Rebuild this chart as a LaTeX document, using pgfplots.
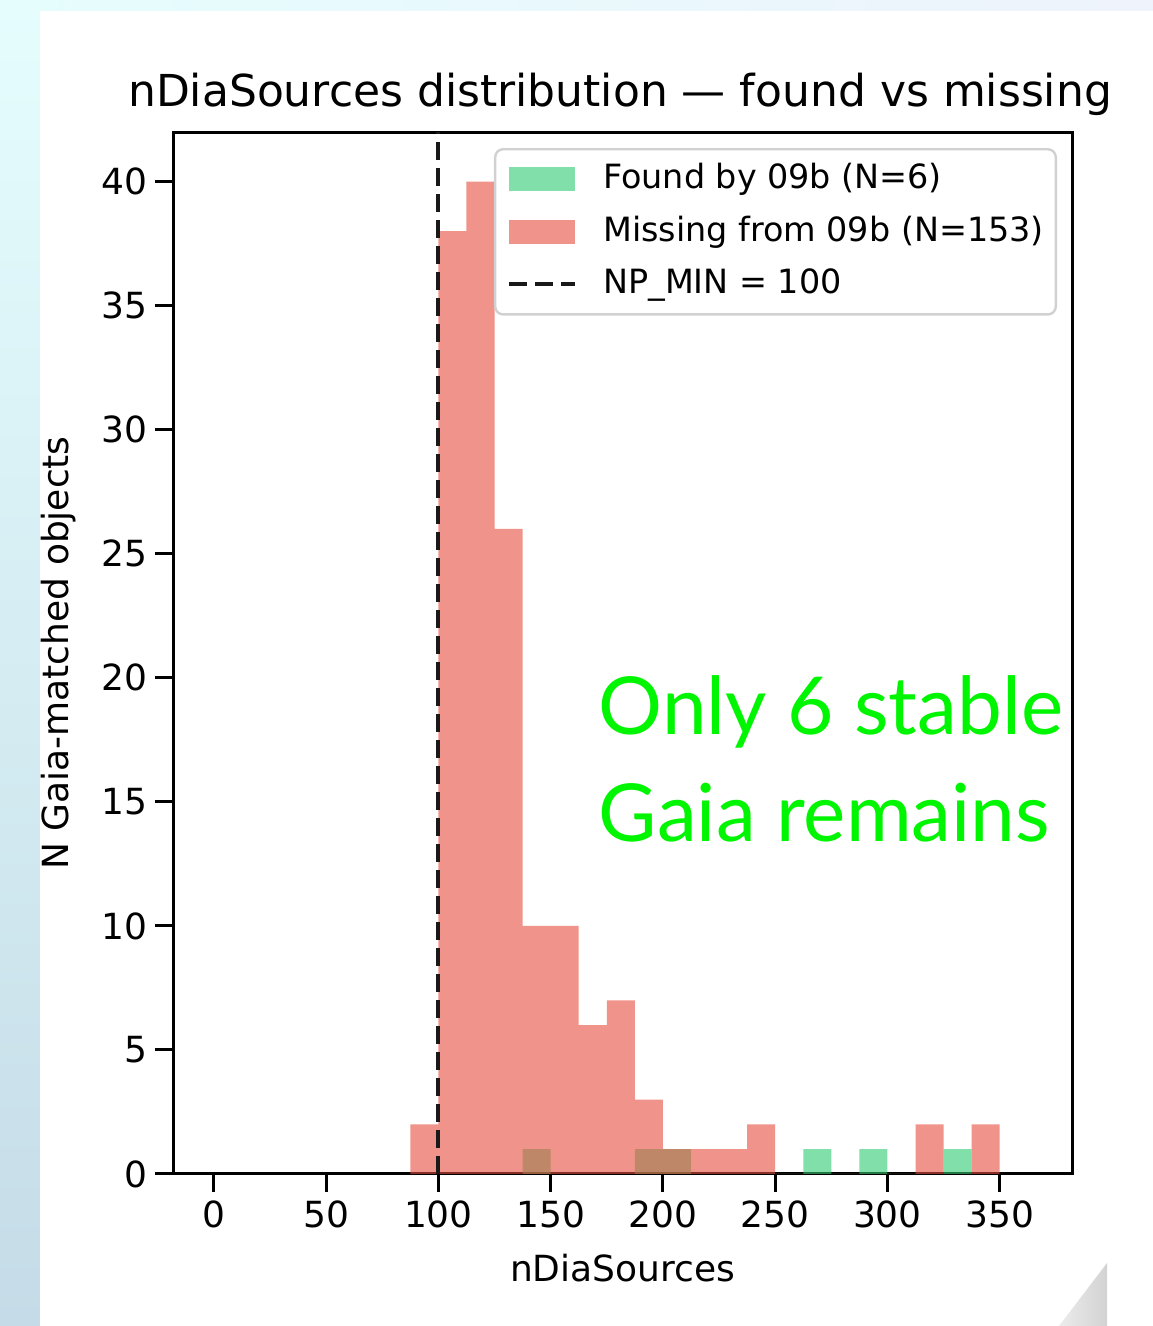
\documentclass[border=0pt]{standalone}
\usepackage{pgfplots}
\pgfplotsset{compat=1.18}
\usepackage{fontspec}
\setmainfont{DejaVu Sans}
\newfontfamily\notefont{Lato}

\definecolor{foundgreen}{HTML}{2ECC71}
\definecolor{missred}{HTML}{E74C3C}
\definecolor{notegreen}{RGB}{0,245,0}
\definecolor{bgtop}{RGB}{229,253,253}
\definecolor{bgbot}{RGB}{197,220,232}
\definecolor{bgright}{RGB}{238,243,252}

\begin{document}
\begin{tikzpicture}
% screenshot backdrop
\shade[top color=bgtop, bottom color=bgbot] (0pt,0pt) rectangle (288.25pt,331.5pt);
\shade[left color=bgtop, right color=bgright] (0pt,328.75pt) rectangle (288.25pt,331.5pt);
\fill[white] (10pt,0pt) rectangle (288.25pt,328.75pt);
\shade[left color=gray!15, right color=gray!35] (264.75pt,0pt) -- (276.75pt,15.75pt) -- (276.75pt,0pt) -- cycle;

\begin{axis}[
  at={(43.25pt,38pt)}, anchor=south west,
  scale only axis,
  width=224.75pt, height=260.5pt,
  xmin=-18.2, xmax=382.2,
  ymin=0, ymax=42,
  xtick={0,50,...,350},
  ytick={0,5,...,40},
  tick align=outside,
  xtick pos=bottom, ytick pos=left,
  major tick length=4.4pt,
  every tick/.style={black, line width=0.75pt},
  axis line style={line width=0.75pt},
  ticklabel style={font=\fontsize{9}{10}\selectfont},
  xticklabel style={yshift=1.2pt},
  yticklabel style={xshift=1.5pt},
  /pgf/number format/assume math mode=true,
  xlabel={nDiaSources},
  xlabel style={font=\fontsize{9}{10}\selectfont, at={(axis description cs:0.5,0)}, anchor=center, yshift=-23.5pt},
  ylabel={N Gaia-matched objects},
  ylabel style={font=\fontsize{9}{10}\selectfont, at={(axis description cs:0,0.5)}, anchor=center, yshift=28.5pt},
  legend cell align=left,
  legend style={
    at={(0.9833,0.9846)}, anchor=north east,
    draw=black!18, line width=0.6pt, rounded corners=2pt, fill=white,
    font=\fontsize{8.35}{10}\selectfont,
    inner xsep=3pt, inner ysep=3.6pt,
    row sep=5.35pt,
    nodes={inner sep=0pt, text height=6.2pt, text depth=1.6pt},
    /tikz/every odd column/.append style={column sep=6.5pt},
  },
]
\addplot[draw=none, fill=foundgreen, fill opacity=0.6, const plot,
  legend image code/.code={\fill[sharp corners, foundgreen, fill opacity=0.6] (0pt,-3pt) rectangle (16.5pt,3pt);}]
  coordinates {(137.5,1) (150,0) (187.5,1) (200,1) (212.5,0) (262.5,1) (275,0) (287.5,1) (300,0) (325,1) (337.5,0)} \closedcycle;
\addlegendentry{Found by 09b (N=6)}

\addplot[draw=none, fill=missred, fill opacity=0.6, const plot,
  legend image code/.code={\fill[sharp corners, missred, fill opacity=0.6] (0pt,-3pt) rectangle (16.5pt,3pt);}]
  coordinates {(87.5,2) (100,38) (112.5,40) (125,26) (137.5,10) (150,10) (162.5,6) (175,7) (187.5,3) (200,1) (212.5,1) (225,1) (237.5,2) (250,0) (312.5,2) (325,0) (337.5,2) (350,0)} \closedcycle;
\addlegendentry{Missing from 09b (N=153)}

\addplot[black!90, line width=1pt, dash pattern=on 4.5pt off 2pt,
  legend image code/.code={\draw[sharp corners, black!90, line width=1pt, dash pattern=on 4.5pt off 2pt] (0pt,0pt) -- (16.5pt,0pt);}]
  coordinates {(100,0) (100,42)};
\addlegendentry{NP\_MIN = 100}
\end{axis}

% title
\node[anchor=base, inner sep=0pt, font=\fontsize{11}{13}\selectfont] at (155pt,304.75pt) {nDiaSources distribution — found vs missing};

% overlaid note
\node[anchor=base west, inner sep=0pt, text=notegreen, font=\notefont\fontsize{20}{24}\selectfont] at (149.5pt,147.75pt) {Only 6 stable};
\node[anchor=base west, inner sep=0pt, text=notegreen, font=\notefont\fontsize{20}{24}\selectfont] at (149.5pt,121pt) {Gaia remains};
\end{tikzpicture}
\end{document}
